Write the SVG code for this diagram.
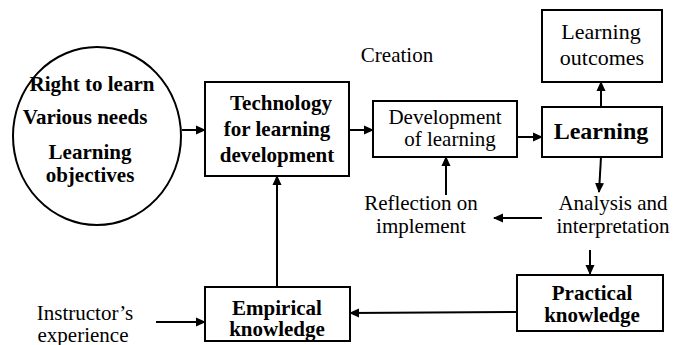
<svg xmlns="http://www.w3.org/2000/svg" width="677" height="345" viewBox="0 0 677 345">
<defs>
<marker id="ah" markerWidth="10" markerHeight="10" refX="9" refY="5" orient="auto" markerUnits="userSpaceOnUse">
<path d="M0,0.5 L10,5 L0,9.5 Z" fill="#000"/>
</marker>
</defs>
<style>
.box{fill:#fff;stroke:#000;stroke-width:2}
text{font-family:'Liberation Serif','DejaVu Serif',serif;font-size:21px;fill:#000;text-anchor:middle}
.b{font-weight:bold}
.c{stroke:#000;stroke-width:2;fill:none;marker-end:url(#ah)}
</style>
<rect width="677" height="345" fill="#fff"/>
<g id="needs">
<ellipse cx="97" cy="136" rx="84" ry="89" class="box"/>
<text class="b" x="92" y="91">Right to learn</text>
<text class="b" x="85" y="124">Various needs</text>
<text class="b" x="90" y="159">Learning</text>
<text class="b" x="90" y="182">objectives</text>
</g>
<g id="technology">
<rect x="205" y="82" width="144" height="94" class="box"/>
<text class="b" x="281" y="110">Technology</text>
<text class="b" x="277" y="136">for learning</text>
<text class="b" x="277" y="162">development</text>
</g>
<g id="development">
<rect x="373" y="101" width="144" height="56" class="box"/>
<text x="445" y="124">Development</text>
<text x="450" y="146">of learning</text>
</g>
<g id="learning">
<rect x="542" y="107" width="120" height="50" class="box"/>
<text class="b" x="601" y="139" style="font-size:24px">Learning</text>
</g>
<g id="outcomes">
<rect x="542" y="10" width="120" height="72" class="box"/>
<text x="601" y="39" style="font-size:22px">Learning</text>
<text x="602" y="65" style="font-size:22px">outcomes</text>
</g>
<g id="creation">
<text x="397" y="62">Creation</text>
</g>
<g id="reflection">
<text x="421" y="210">Reflection on</text>
<text x="421" y="233">implement</text>
</g>
<g id="analysis">
<text x="613" y="210">Analysis and</text>
<text x="613" y="233">interpretation</text>
</g>
<g id="practical">
<rect x="517" y="275" width="146" height="56" class="box"/>
<text class="b" x="592" y="300">Practical</text>
<text class="b" x="592" y="322">knowledge</text>
</g>
<g id="empirical">
<rect x="205" y="287" width="145" height="54" class="box"/>
<text class="b" x="277" y="315">Empirical</text>
<text class="b" x="277" y="336">knowledge</text>
</g>
<g id="instructor">
<text x="85" y="320">Instructor’s</text>
<text x="83" y="342">experience</text>
</g>
<g id="connectors">
<line class="c" x1="182" y1="130" x2="205" y2="130"/>
<line class="c" x1="349" y1="130" x2="373" y2="130"/>
<line class="c" x1="517" y1="137" x2="542" y2="137"/>
<line class="c" x1="601" y1="107" x2="601" y2="82"/>
<line class="c" x1="601" y1="157" x2="599" y2="192"/>
<line class="c" x1="542" y1="218" x2="494" y2="218"/>
<line class="c" x1="446" y1="195" x2="446" y2="157"/>
<line class="c" x1="590" y1="250" x2="590" y2="274"/>
<line class="c" x1="517" y1="312" x2="350" y2="313"/>
<line class="c" x1="277" y1="287" x2="277" y2="176"/>
<line class="c" x1="156" y1="322" x2="205" y2="322"/>
</g>
</svg>
